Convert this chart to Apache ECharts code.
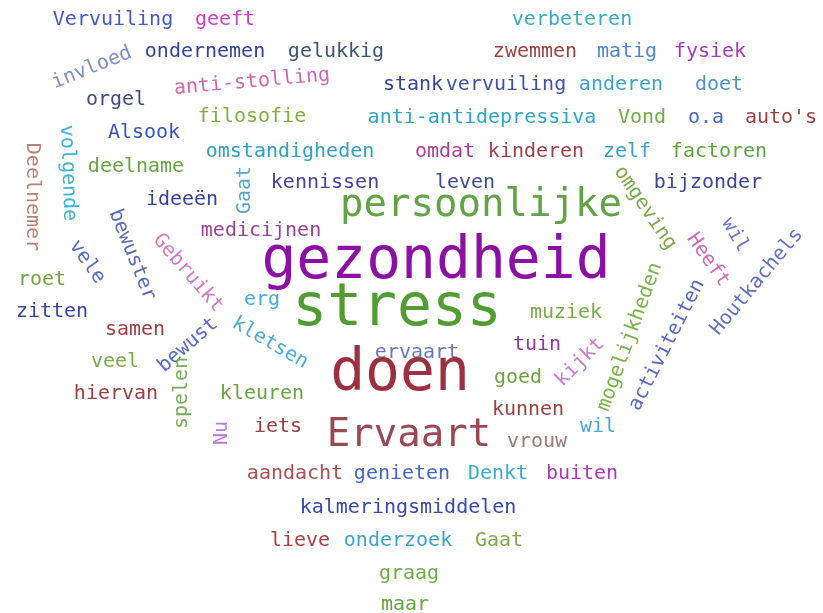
<!DOCTYPE html>
<html>
<head>
<meta charset="utf-8">
<script src="https://cdn.jsdelivr.net/npm/echarts@6/dist/echarts.min.js"></script>
<style>html,body{margin:0;padding:0;background:#fff}#c{width:823px;height:613px}</style>
</head>
<body>
<div id="c"></div>
<script>
// Words of the cloud and their weights (frequencies)
const words = ["Vervuiling","geeft","verbeteren","invloed","ondernemen","gelukkig","zwemmen","matig","fysiek",
"anti-stolling","stank","vervuiling","anderen","doet","orgel","filosofie","anti-antidepressiva","Vond","o.a","auto's",
"Alsook","omstandigheden","omdat","kinderen","zelf","factoren","Deelnemer","volgende","deelname","Gaat",
"kennissen","leven","bijzonder","ideeën","persoonlijke","omgeving","medicijnen","bewuster","vele","Gebruikt",
"gezondheid","wil","Heeft","Houtkachels","roet","zitten","erg","stress","muziek","mogelijkheden",
"activiteiten","samen","bewust","kletsen","tuin","ervaart","veel","kijkt","doen","goed",
"spelen","hiervan","kleuren","kunnen","iets","Nu","wil","Ervaart","vrouw","aandacht",
"genieten","Denkt","buiten","kalmeringsmiddelen","lieve","onderzoek","Gaat","graag","maar"];
const weights = [2,2,2,2,2,2,2,2,2,
2,2,2,2,2,2,2,2,2,2,2,
2,2,2,2,2,2,2,2,2,2,
2,2,2,2,6,2,2,2,2,2,
10,2,2,2,2,2,2,10,2,2,
2,2,2,2,2,2,2,2,10,2,
2,2,2,2,2,2,2,6,2,2,
2,2,2,2,2,2,2,2,2];
// Layout of the cloud: [x, y, rotation] in a 823 x 613 layout space
const layout = [[113,20,0],[225,20,0],[572,20,0],[92,68,22],[205,52,0],[336,52,0],[535,52,0],[627,52,0],[710,52,0],
[252,82,5],[413,85,0],[506,85,0],[621,85,0],[719,85,0],[116,100,0],[252,117,0],[482,118,0],[642,118,0],[706,118,0],[781,118,0],
[144,133,0],[290,152,0],[445,152,0],[536,152,0],[627,152,0],[719,152,0],[32,197,-90],[68,173,-88],[136,167,0],[245,190,90],
[325,183,0],[465,183,0],[708,183,0],[182,200,0],[481,206,0],[645,208,-56],[261,231,0],[132,255,-68],[87,262,-55],[188,273,-49],
[436,263,0],[735,235,-60],[708,260,-55],[757,282,50],[42,280,0],[52,312,0],[262,300,0],[397,310,0],[566,313,0],[630,337,70],
[667,345,63],[135,330,0],[188,345,41],[270,343,-30],[537,345,0],[417,353,0],[115,362,0],[580,362,45],[400,375,0],[518,378,0],
[182,393,90],[116,394,0],[262,394,0],[528,410,0],[278,427,0],[222,433,90],[598,427,0],[409,436,0],[537,442,0],[295,474,0],
[402,474,0],[498,474,0],[582,474,0],[408,508,0],[300,541,0],[398,541,0],[499,541,0],[409,574,0],[405,605,0]];
const colors = ['#4858c0','#d040c0','#38acc8','#8090c8','#34449a','#3e5474','#a04040','#5284d4','#a838c0',
'#d068ac','#34449c','#4252ac','#38a4d4','#5090d4','#3c4c7c','#80b040','#30a4c4','#70ac40','#4868bc','#9c4040',
'#3454c4','#30a0c4','#ac4094','#9c4050','#38a0d4','#60a440','#bc8070','#40b4d4','#68a440','#58a4d4',
'#4840a4','#3c4c9c','#3c449c','#34449c','#60a444','#78ac48','#9c4094','#5868bc','#5868c4','#d078c4',
'#8c10a4','#6878cc','#d068bc','#6070c4','#70a440','#3444ac','#48acd4','#529c32','#78ac48','#78b448',
'#5868c4','#9c4040','#5868cc','#48acd4','#8c38a4','#6878bc','#78ac48','#d078cc','#9c3040','#68a440',
'#78ac58','#9c4040','#68a440','#9c4040','#9c4040','#bc78dc','#48acd4','#9c4854','#9c7878','#ac5050',
'#4068cc','#38acd0','#ac38bc','#3848ac','#ac4040','#38a4cc','#80ac48','#70ac48','#68a440'];

function sizeOf(w){ return 20 + (w - 2) * 4.75; }

const data = words.map((w, i) => ({
  name: w,
  value: [layout[i][0], layout[i][1], weights[i]],
  label: {
    show: true,
    formatter: w,
    rotate: layout[i][2],
    color: colors[i],
    fontSize: sizeOf(weights[i])
  }
}));

const chart = echarts.init(document.getElementById('c'), null, {renderer: 'canvas'});
chart.setOption({
  backgroundColor: '#ffffff',
  animation: false,
  grid: {left: 0, right: 0, top: 0, bottom: 0},
  xAxis: {type: 'value', min: 0, max: 823, show: false},
  yAxis: {type: 'value', min: 0, max: 613, inverse: true, show: false},
  series: [{
    type: 'scatter',
    symbolSize: 0,
    itemStyle: {opacity: 1},
    data: data,
    label: {
      show: true,
      position: 'inside',
      align: 'center',
      verticalAlign: 'middle',
      fontFamily: 'DejaVu Sans Mono',
      fontWeight: 'normal',
      opacity: 1
    },
    emphasis: {disabled: true}
  }]
});
</script>
</body>
</html>
